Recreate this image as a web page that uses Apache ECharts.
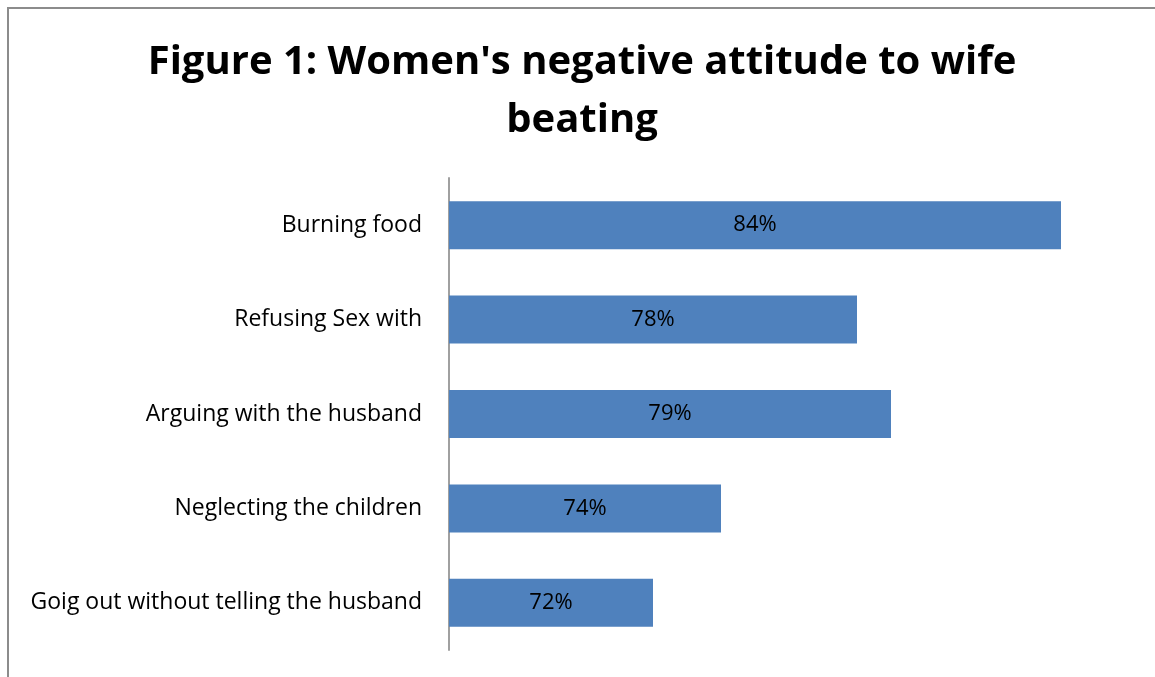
<!DOCTYPE html>
<html style="height: 100%">
<head>
<meta charset="utf-8">
<script src="https://cdn.jsdelivr.net/npm/echarts@6/dist/echarts.min.js"></script>
</head>
<body style="height: 100%; margin: 0">
<div id="container" style="width: 1155px; height: 677px"></div>
<script>
// categories listed bottom to top (ECharts y category axis goes upward)
var categories = ['Goig out without telling the husband', 'Neglecting the children',
                  'Arguing with the husband', 'Refusing Sex with', 'Burning food'];
var values = [72, 74, 79, 78, 84];

var myChart = echarts.init(document.getElementById('container'));

var option = {
    backgroundColor: '#ffffff',
    animation: false,
    title: {
        text: "Figure 1: Women's negative attitude to wife\nbeating",
        left: 577,
        textAlign: 'center',
        top: 29,
        textStyle: {
            fontFamily: 'Open Sans',
            fontWeight: 'bold',
            fontSize: 40,
            lineHeight: 58,
            color: '#000'
        }
    },
    graphic: [{
        type: 'rect',
        shape: { x: 8, y: 8, width: 1300, height: 800 },
        style: { fill: 'none', stroke: '#8c8c8c', lineWidth: 2 },
        silent: true
    }],
    grid: { left: 449, right: 26, top: 178, bottom: 27 },
    xAxis: {
        type: 'value',
        min: 66,
        max: 86,
        show: false
    },
    yAxis: {
        type: 'category',
        data: categories,
        axisLine: { show: true, lineStyle: { color: '#a0a0a0', width: 2 } },
        axisTick: { show: false },
        axisLabel: {
            margin: 27,
            fontFamily: 'Open Sans',
            fontSize: 23,
            color: '#000'
        }
    },
    series: [{
        type: 'bar',
        data: values,
        barWidth: 48,
        itemStyle: { color: '#4f81bd' },
        label: {
            show: true,
            position: 'inside',
            formatter: '{c}%',
            fontFamily: 'Open Sans',
            fontSize: 22,
            color: '#000'
        }
    }]
};

myChart.setOption(option);
</script>
</body>
</html>
